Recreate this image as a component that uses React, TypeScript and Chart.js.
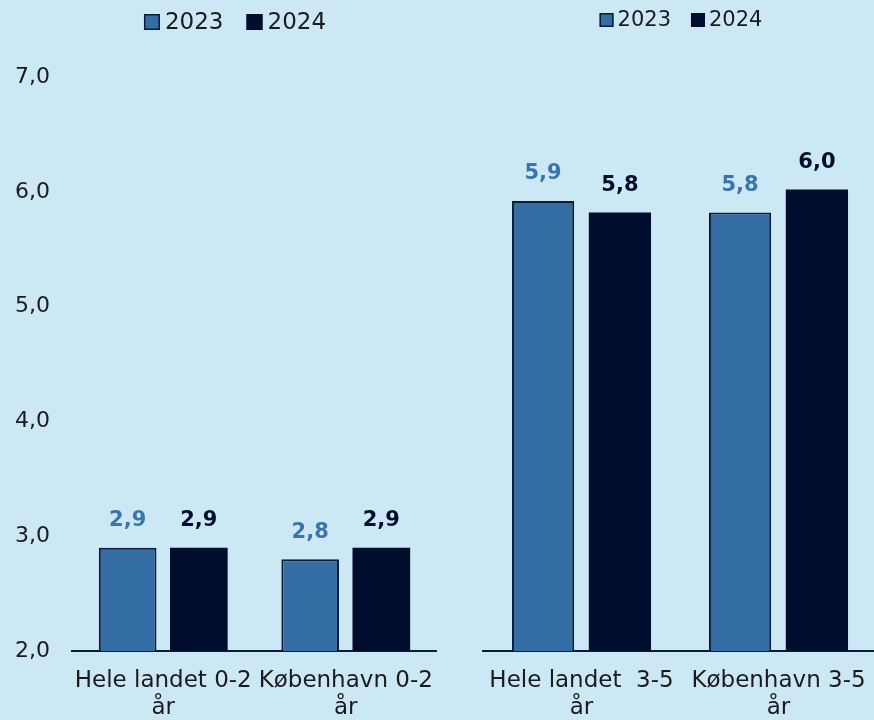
import React, { useEffect, useRef } from "react";
import { Chart, registerables } from "chart.js";

Chart.register(...registerables);

// ---------- data ----------
const SERIES_LABELS = ["2023", "2024"];
const LEFT_CATEGORIES = [["Hele landet 0-2", "år"], ["København 0-2", "år"]];
const LEFT_2023 = [2.9, 2.8];
const LEFT_2024 = [2.9, 2.9];
const RIGHT_CATEGORIES = [["Hele landet  3-5", "år"], ["København 3-5", "år"]];
const RIGHT_2023 = [5.92, 5.82];
const RIGHT_2024 = [5.82, 6.02];
const Y_MIN = 2;
const Y_MAX = 7;
const Y_STEP = 1;

// ---------- style ----------
const BG = "#CDE8F5";
const C2023 = "#336DA4";
const C2024 = "#000D2C";
const BORDER = "#0B1B3A";
const LABEL_COLORS = ["#3B74AC", "#000D2C"];
const TEXT = "#1a1a1f";
const FONT = "'DejaVu Sans', sans-serif";

const fmt = (v: number) => v.toFixed(1).replace(".", ",");

const legendPlugin = {
  id: "customLegend",
  afterDraw(chart: any, _args: any, opts: any) {
    const { ctx } = chart;
    const { cx, cy, box, size, gap, spacing } = opts;
    ctx.save();
    ctx.font = `${size}px ${FONT}`;
    const items = chart.data.datasets.map((ds: any) => ({
      text: ds.label,
      fill: ds.backgroundColor,
      stroke: ds.borderColor,
      w: ctx.measureText(ds.label).width,
    }));
    const total =
      items.reduce((s: number, it: any) => s + box + gap + it.w, 0) +
      spacing * (items.length - 1);
    let x = cx - total / 2;
    for (const it of items) {
      ctx.fillStyle = it.fill;
      ctx.fillRect(x, cy - box / 2, box, box);
      ctx.strokeStyle = it.stroke;
      ctx.lineWidth = 1.5;
      ctx.strokeRect(x + 0.75, cy - box / 2 + 0.75, box - 1.5, box - 1.5);
      ctx.fillStyle = TEXT;
      ctx.textBaseline = "middle";
      ctx.textAlign = "left";
      ctx.fillText(it.text, x + box + gap, cy + 1);
      x += box + gap + it.w + spacing;
    }
    ctx.restore();
  },
};

const dataLabelPlugin = {
  id: "dataLabels",
  afterDatasetsDraw(chart: any) {
    const { ctx } = chart;
    ctx.save();
    ctx.font = `bold 21px ${FONT}`;
    ctx.textAlign = "center";
    ctx.textBaseline = "middle";
    chart.data.datasets.forEach((ds: any, di: number) => {
      const meta = chart.getDatasetMeta(di);
      meta.data.forEach((el: any, i: number) => {
        ctx.fillStyle = LABEL_COLORS[di];
        ctx.fillText(fmt(ds.data[i]), el.x, el.y - 27);
      });
    });
    ctx.restore();
  },
};

function makeConfig(
  categories: string[][],
  a: number[],
  b: number[],
  showY: boolean,
  padLeft: number,
  legend: any
): any {
  return {
    type: "bar",
    data: {
      labels: categories,
      datasets: [
        {
          label: SERIES_LABELS[0],
          data: a,
          backgroundColor: C2023,
          borderColor: BORDER,
          borderWidth: 2,
          categoryPercentage: 0.78,
          barPercentage: 0.81,
        },
        {
          label: SERIES_LABELS[1],
          data: b,
          backgroundColor: C2024,
          borderColor: C2024,
          borderWidth: 0,
          categoryPercentage: 0.78,
          barPercentage: 0.81,
        },
      ],
    },
    options: {
      responsive: false,
      animation: false,
      layout: { padding: { top: 77, left: padLeft, right: 0, bottom: 0 } },
      plugins: {
        legend: { display: false },
        tooltip: { enabled: false },
        customLegend: legend,
      },
      scales: {
        x: {
          grid: { display: false, drawTicks: false },
          border: { display: true, color: BORDER, width: 2 },
          ticks: {
            color: TEXT,
            font: { family: FONT, size: 23, lineHeight: 1.2 },
            padding: 16,
            maxRotation: 0,
            autoSkip: false,
          },
          afterFit(scale: any) {
            scale.height = 69;
            scale.paddingLeft = 0;
            scale.paddingRight = 0;
          },
        },
        y: {
          display: showY,
          min: Y_MIN,
          max: Y_MAX,
          grid: { display: false, drawTicks: false },
          border: { display: false },
          ticks: {
            stepSize: Y_STEP,
            color: TEXT,
            font: { family: FONT, size: 22 },
            padding: 22,
            callback: (v: any) => fmt(Number(v)),
          },
          afterFit(scale: any) {
            scale.width = showY ? 64 : 0;
          },
        },
      },
    },
    plugins: [legendPlugin, dataLabelPlugin],
  };
}

function ChartCanvas({ config, width, height }: { config: any; width: number; height: number }) {
  const ref = useRef<HTMLCanvasElement | null>(null);
  useEffect(() => {
    if (!ref.current) return;
    const chart = new Chart(ref.current, config);
    return () => chart.destroy();
  }, []);
  return <canvas ref={ref} width={width} height={height} style={{ display: "block", width, height }} />;
}

export default function App() {
  const leftCfg = makeConfig(LEFT_CATEGORIES, LEFT_2023, LEFT_2024, true, 8, {
    cx: 235,
    cy: 22,
    box: 16,
    size: 23,
    gap: 5,
    spacing: 23,
  });
  const rightCfg = makeConfig(RIGHT_CATEGORIES, RIGHT_2023, RIGHT_2024, false, 46, {
    cx: 244,
    cy: 20,
    box: 14,
    size: 21,
    gap: 4,
    spacing: 20,
  });
  return (
    <div
      style={{
        position: "fixed",
        left: 0,
        top: 0,
        width: 874,
        height: 720,
        background: BG,
        overflow: "hidden",
      }}
    >
      <div style={{ position: "absolute", left: 0, top: 0 }}>
        <ChartCanvas config={leftCfg} width={437} height={720} />
      </div>
      <div style={{ position: "absolute", left: 437, top: 0 }}>
        <ChartCanvas config={rightCfg} width={440} height={720} />
      </div>
    </div>
  );
}
